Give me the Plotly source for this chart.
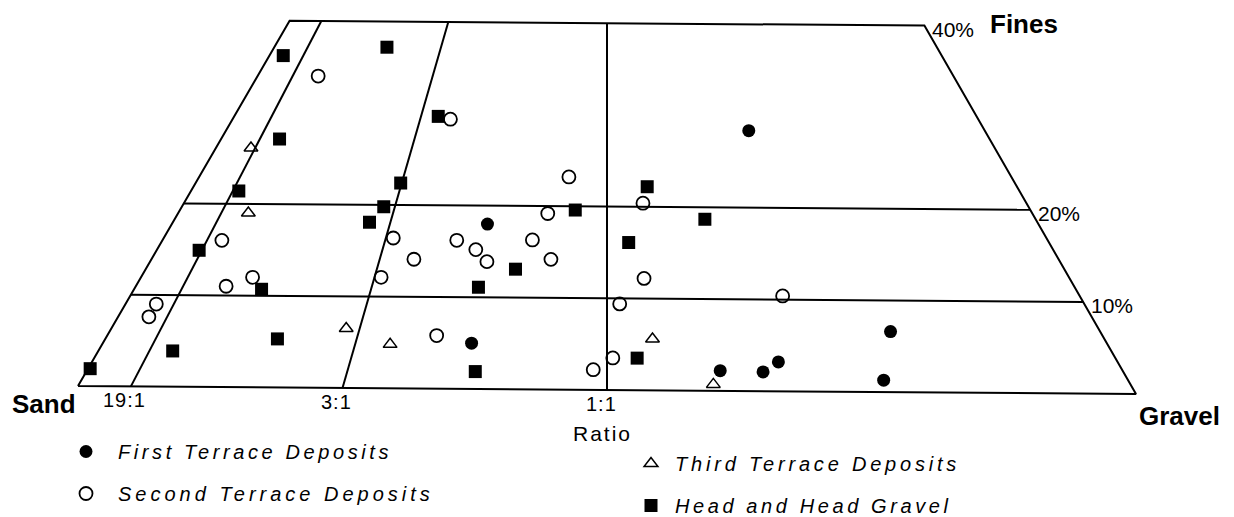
import plotly.graph_objects as go

# ---- Data: gravel % and fines % (sand = 100 - gravel - fines) ----
first_gravel = [29.7, 34.7, 49.2, 59.6, 63.7, 64.6, 73.5, 75.5]
first_fines = [18.0, 5.0, 28.4, 2.2, 2.1, 3.2, 6.6, 1.3]

second_gravel = [5.7, 5.6, 8.5, 10.5, 2.9, 2.9, 21.6, 22.6, 20.5, 34.8, 34.8, 27.7,
                 30.0, 31.7, 34.8, 37.6, 24.7, 31.0, 43.2, 47.4, 46.5, 48.8, 47.6, 61.4]
second_fines = [34.0, 16.0, 11.0, 12.0, 9.0, 7.6, 16.4, 12.1, 29.4, 23.2, 19.2, 16.2,
                15.2, 13.9, 16.3, 14.2, 14.1, 5.8, 20.4, 12.2, 9.4, 3.5, 2.2, 10.4]

third_gravel = [3.3, 6.6, 22.1, 27.1, 51.5, 59.7]
third_fines = [26.1, 19.0, 6.5, 4.8, 5.6, 0.7]

head_gravel = [1.3, 10.6, 5.5, 4.5, 19.0, 18.5, 4.0, 12.0, 16.2, 7.0, 0.2, 19.3, 19.2,
               37.2, 34.8, 32.3, 36.6, 42.7, 44.0, 51.1, 49.9]
head_fines = [36.2, 37.2, 27.1, 21.4, 19.8, 18.1, 14.9, 10.7, 5.3, 3.9, 1.9, 22.4, 29.7,
              19.6, 13.1, 11.1, 1.9, 22.2, 16.1, 3.5, 18.7]

fines_levels = [10, 20, 40]
fines_labels = ["10%", "20%", "40%"]
ratio_names = ["19:1", "3:1", "1:1"]
ratio_sand_to_gravel = [19, 3, 1]

# ---- frame of the (slightly tilted) ternary diagram, in page pixels ----
S_PX = (78.0, 386.0)    # sand vertex
G_PX = (1136.0, 394.0)  # gravel vertex
A_PX = (607.0, -527.0)  # fines vertex (off the page)
PAGE_OFF = 8            # default body margin of the html page
W, H = 1234, 517


def project(g, f):
    gx = [S_PX[0] + gi / 100 * (G_PX[0] - S_PX[0]) + fi / 100 * (A_PX[0] - S_PX[0]) for gi, fi in zip(g, f)]
    gy = [S_PX[1] + gi / 100 * (G_PX[1] - S_PX[1]) + fi / 100 * (A_PX[1] - S_PX[1]) for gi, fi in zip(g, f)]
    return gx, gy


FONT = "Liberation Sans"
LW = 2
fig = go.Figure()


def add_line(g, f):
    x, y = project(g, f)
    fig.add_trace(go.Scatter(x=x, y=y, mode="lines", line=dict(color="black", width=LW),
                             showlegend=False, hoverinfo="skip"))


top = max(fines_levels)
# outline of the truncated triangle
add_line([0, 100, 100 - top, 0, 0], [0, 0, top, top, 0])
# fines levels
for fl in fines_levels[:-1]:
    add_line([0, 100 - fl], [fl, fl])
# sand:gravel ratio lines
for r in ratio_sand_to_gravel:
    q = 1 / (r + 1)
    add_line([q * 100, q * (100 - top)], [0, top])


def spaced(t, px):
    return f'<span style="letter-spacing:{px}px">{t}</span>'


def add_points(g, f, name, symbol, size, legend, group, lw=0, sp=3.5):
    x, y = project(g, f)
    fig.add_trace(go.Scatter(
        x=x, y=y, mode="markers", name=spaced(name, sp),
        marker=dict(symbol=symbol, size=size, color="black", line=dict(color="black", width=lw)),
        legend=legend, legendgroup=group))


add_points(first_gravel, first_fines, "First Terrace Deposits", "circle", 13, "legend", "a", sp=3.6)
add_points(second_gravel, second_fines, "Second Terrace Deposits", "circle-open", 13, "legend", "b", 1.8, sp=4.0)
add_points(third_gravel, third_fines, "Third Terrace Deposits", "triangle-up-open", 12, "legend2", "c", 1.5, sp=3.8)
add_points(head_gravel, head_fines, "Head and Head Gravel", "square", 13, "legend2", "d", sp=3.6)

ann = []
# fines % labels on the right edge
for fl, lab in zip(fines_levels, fines_labels):
    x, y = project([100 - fl], [fl])
    ann.append(dict(x=x[0], y=y[0], text=lab, xanchor="left", yanchor="middle", xshift=6, yshift=-4,
                    showarrow=False, font=dict(family=FONT, size=21, color="black")))
# ratio labels below the base
for r, lab in zip(ratio_sand_to_gravel, ratio_names):
    q = 1 / (r + 1)
    x, y = project([q * 100], [0])
    ann.append(dict(x=x[0] - 6, y=y[0], text=spaced(lab, 1), xanchor="center", yanchor="top", yshift=-1,
                    showarrow=False, font=dict(family=FONT, size=20, color="black")))
mx, my = project([50], [0])
ann.append(dict(x=mx[0] - 5, y=my[0] + 43, text=spaced("Ratio", 2), xanchor="center", yanchor="middle",
                showarrow=False, font=dict(family=FONT, size=21, color="black")))
# vertex labels
sx, sy = project([0], [0])
ann.append(dict(x=10, y=sy[0] + 18, text="<b>Sand</b>", xanchor="left", yanchor="middle",
                showarrow=False, font=dict(family=FONT, size=26, color="black")))
gx, gy = project([100], [0])
ann.append(dict(x=gx[0] + 1, y=gy[0] + 22, text="<b>Gravel</b>", xanchor="left",
                yanchor="middle", showarrow=False, font=dict(family=FONT, size=26, color="black")))
fx, fy = project([100 - top], [top])
ann.append(dict(x=fx[0] + 64, y=fy[0] - 2, text="<b>Fines</b>", xanchor="left", yanchor="middle",
                showarrow=False, font=dict(family=FONT, size=26, color="black")))

legend_style = dict(font=dict(family=FONT, size=20, color="black", style="italic"),
                    bgcolor="rgba(0,0,0,0)", borderwidth=0, tracegroupgap=13,
                    itemsizing="trace", xanchor="left", yanchor="top", xref="paper", yref="paper")


def px_x(p):
    return (p - PAGE_OFF) / W


def px_y(p):
    return 1 - (p - PAGE_OFF) / H


fig.update_layout(
    width=W, height=H,
    margin=dict(l=0, r=0, t=0, b=0, autoexpand=False),
    paper_bgcolor="white", plot_bgcolor="white",
    xaxis=dict(range=[PAGE_OFF, W + PAGE_OFF], visible=False, fixedrange=True),
    yaxis=dict(range=[H + PAGE_OFF, PAGE_OFF], visible=False, fixedrange=True),
    annotations=ann,
    showlegend=True,
    legend=dict(x=px_x(54), y=px_y(432), itemwidth=54, **legend_style),
    legend2=dict(x=px_x(627), y=px_y(444), itemwidth=38, **legend_style),
)

fig.write_html("out.html")
